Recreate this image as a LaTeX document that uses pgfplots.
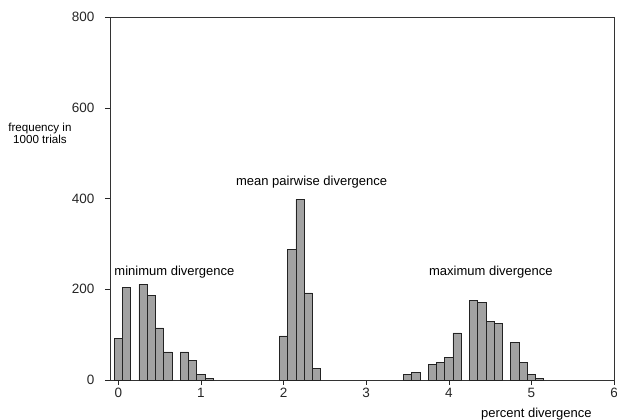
\documentclass[border=0pt]{standalone}
\usepackage{fontspec}
\setmainfont{Liberation Sans}
\usepackage{pgfplots}
\usepackage{pgfplotstable}
\pgfplotsset{compat=1.18}

\definecolor{barfill}{RGB}{162,162,162}
\definecolor{barline}{RGB}{35,35,35}

% frequency of each 0.1% bin
\pgfplotstableread{
x y
0.0 92
0.1 204
0.3 211
0.4 187
0.5 115
0.6 62
0.8 62
0.9 43
1.0 12
1.1 3
}\mindiv
\pgfplotstableread{
x y
2.0 97
2.1 288
2.2 398
2.3 192
2.4 25
}\meandiv
\pgfplotstableread{
x y
3.5 12
3.6 16
3.8 34
3.9 38
4.0 50
4.1 104
4.3 175
4.4 171
4.5 130
4.6 125
4.8 82
4.9 38
5.0 12
5.1 3
}\maxdiv

\begin{document}
\begin{tikzpicture}
\begin{axis}[
  name=ax,
  scale only axis,
  width=504bp, height=363bp,
  xmin=-0.1, xmax=6, ymin=0, ymax=800,
  axis line style={black!80},
  xtick pos=bottom, ytick pos=left,
  xtick={0,1,...,6}, ytick={0,200,...,800},
  tick align=outside, major tick length=5bp,
  tick style={black!85, thin},
  /pgf/number format/assume math mode=true,
  ticklabel style={font=\fontsize{13.5bp}{15bp}\selectfont, text=black!85},
  yticklabel style={xshift=-7bp},
  ylabel={frequency in\\1000 trials},
  ylabel style={rotate=-90, at={(rel axis cs:-0.139,0.68)}, anchor=center, align=center,
    font=\fontsize{11.6bp}{12.5bp}\selectfont},
  xlabel={percent divergence},
  xlabel style={at={(rel axis cs:0.846,0)}, anchor=north, yshift=-25bp,
    font=\fontsize{13bp}{14bp}\selectfont},
  ybar, bar width=0.1, bar shift=0pt,
  clip=false,
]
\addplot[fill=barfill, draw=barline, line width=0.6pt] table[x=x, y=y] {\mindiv};
\addplot[fill=barfill, draw=barline, line width=0.6pt] table[x=x, y=y] {\meandiv};
\addplot[fill=barfill, draw=barline, line width=0.6pt] table[x=x, y=y] {\maxdiv};

\node[font=\fontsize{13bp}{14bp}\selectfont] at (axis cs:0.68,238) {minimum divergence};
\node[font=\fontsize{13bp}{14bp}\selectfont] at (axis cs:2.34,436) {mean pairwise divergence};
\node[font=\fontsize{13bp}{14bp}\selectfont] at (axis cs:4.51,238) {maximum divergence};
\end{axis}
\pgfresetboundingbox
\useasboundingbox ([xshift=-110bp,yshift=-40bp]ax.south west) rectangle ([xshift=3bp,yshift=17bp]ax.north east);
\end{tikzpicture}
\end{document}
